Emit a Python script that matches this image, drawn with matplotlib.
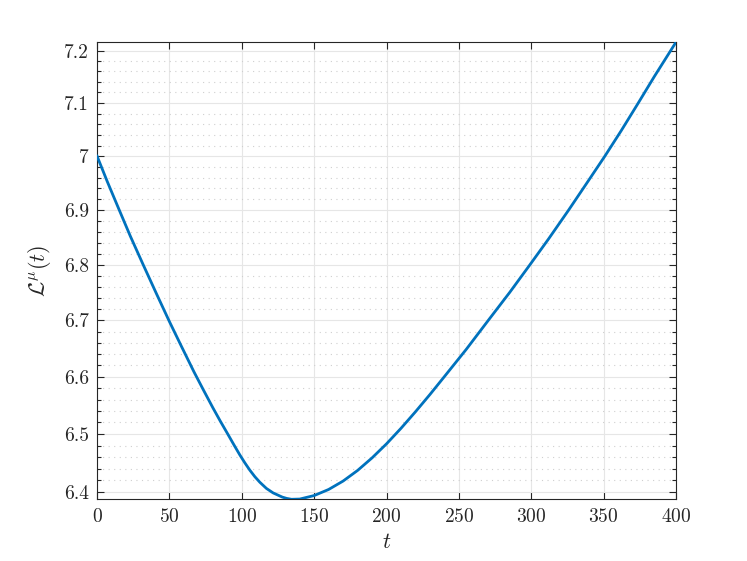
import matplotlib
matplotlib.use("Agg")
import matplotlib.pyplot as plt
from matplotlib.ticker import FixedLocator, NullFormatter, FixedFormatter


# values
t_values = [0, 7, 14.7, 23, 31.9, 41, 50, 58, 66.9, 73.5, 80, 85, 90.6, 94.5,
            98.6, 102, 105.5, 109, 112.4, 117, 121.6, 128, 131, 134.3, 140,
            150, 160, 170, 180, 190, 200, 210, 220, 230, 240, 255, 270.6, 285,
            299.1, 312, 325.7, 338, 350.8, 362, 373, 385, 396.3, 400]
loss_values = [7.0000, 6.9530, 6.9040, 6.8520, 6.7999, 6.7479, 6.6977, 6.6552,
               6.6088, 6.5766, 6.5456, 6.5229, 6.4985, 6.4814, 6.4639, 6.4505,
               6.4377, 6.4264, 6.4170, 6.4063, 6.3987, 6.3915, 6.3893, 6.3878,
               6.3882, 6.3942, 6.4046, 6.4190, 6.4372, 6.4588, 6.4831, 6.5100,
               6.5388, 6.5690, 6.6005, 6.6483, 6.7012, 6.7500, 6.8004, 6.8475,
               6.8998, 6.9486, 7.0000, 7.0473, 7.0960, 7.1504, 7.2000, 7.2164]

x_ticks = [0, 50, 100, 150, 200, 250, 300, 350, 400]
y_ticks = [6.4, 6.5, 6.6, 6.7, 6.8, 6.9, 7.0, 7.1, 7.2]
y_tick_labels = ["6.4", "6.5", "6.6", "6.7", "6.8", "6.9", "7", "7.1", "7.2"]
y_minor = [6.38 + 0.02 * i for i in range(43)]

plt.rcParams["mathtext.fontset"] = "cm"
plt.rcParams["font.family"] = "serif"
plt.rcParams["font.serif"] = ["cmr10", "DejaVu Serif"]
plt.rcParams["axes.formatter.use_mathtext"] = True

dark = "#262626"

fig = plt.figure(figsize=(7.47, 5.61), dpi=100)
ax = fig.add_axes([0.13, 0.11, 0.775, 0.815])

ax.plot(t_values, loss_values, color="#0072BD", linewidth=2, zorder=3)

# semilogy axis, tight limits
ax.set_yscale("log")
ax.set_xlim(0, 400)
ax.set_ylim(min(loss_values), max(loss_values))

ax.xaxis.set_major_locator(FixedLocator(x_ticks))
ax.yaxis.set_major_locator(FixedLocator(y_ticks))
ax.yaxis.set_major_formatter(FixedFormatter(y_tick_labels))
ax.yaxis.set_minor_locator(FixedLocator(y_minor))
ax.yaxis.set_minor_formatter(NullFormatter())

ax.grid(True, which="major", color="#e6e6e6", linewidth=0.8)
ax.grid(True, which="minor", axis="y", color="#cfcfcf", linestyle=(0, (1, 4)),
        linewidth=0.8)
ax.set_axisbelow(True)

ax.tick_params(which="both", direction="in", top=True, right=True,
               colors=dark, labelsize=14, width=0.8)
ax.tick_params(which="major", length=5, pad=6)
ax.tick_params(which="minor", length=3)

for spine in ax.spines.values():
    spine.set_color(dark)
    spine.set_linewidth(0.8)

ax.set_xlabel(r"$t$", fontsize=16, color=dark, labelpad=5)
ax.set_ylabel(r"$\mathcal{L}^{\mu}(t)$", fontsize=16, color=dark, labelpad=8)

fig.savefig("out.png", dpi=100)
